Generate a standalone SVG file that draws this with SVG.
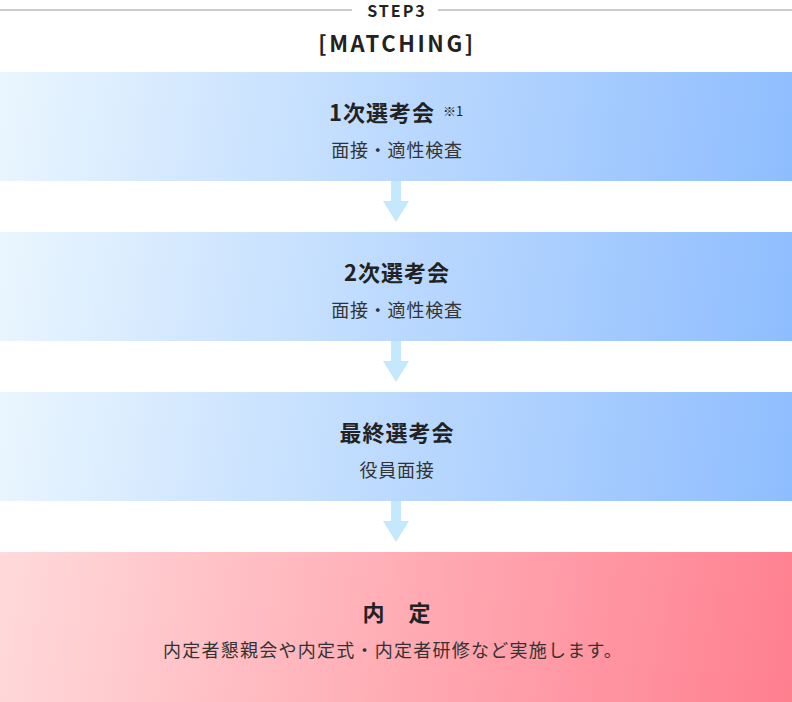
<svg xmlns="http://www.w3.org/2000/svg" width="792" height="702" viewBox="0 0 792 702">
<style>
text{font-family:"Noto Sans CJK JP","Noto Sans",sans-serif;fill:#222;text-anchor:middle}
.t{font-size:22px;font-weight:700;letter-spacing:1px}
.s{font-size:18px;fill:#333;letter-spacing:0.8px}
.n{font-size:13px;text-anchor:start}
</style>
<defs>
<linearGradient id="gb" x1="0" y1="0" x2="792" y2="110" gradientUnits="userSpaceOnUse">
<stop offset="0" stop-color="#eaf6fe"/><stop offset="1" stop-color="#8ebdff"/>
</linearGradient>
<linearGradient id="gp" x1="0" y1="0" x2="792" y2="150" gradientUnits="userSpaceOnUse">
<stop offset="0" stop-color="#ffdadb"/><stop offset="1" stop-color="#ff7f8f"/>
</linearGradient>
</defs>
<g id="header">
<line x1="0" y1="10" x2="352" y2="10" stroke="#999" stroke-width="1"/>
<line x1="438" y1="10" x2="792" y2="10" stroke="#999" stroke-width="1"/>
<text x="397" y="16.5" style="font-size:16px;font-weight:700;letter-spacing:2px">STEP3</text>
<text x="397" y="52" style="font-size:22px;font-weight:700;letter-spacing:2.6px">[MATCHING]</text>
</g>
<g id="connectors" fill="#c4e8fc">
<path d="M391 181H401V201H409L396 222L383 201H391Z"/>
<path d="M391 341H401V361H409L396 382L383 361H391Z"/>
<path d="M391 501H401V521H409L396 542L383 521H391Z"/>
</g>
<g id="step1" transform="translate(0,72)">
<rect width="792" height="109" fill="url(#gb)"/>
<text class="t" x="382" y="49">1次選考会</text>
<text class="n" x="443" y="44">※1</text>
<text class="s" x="397" y="85">面接・適性検査</text>
</g>
<g id="step2" transform="translate(0,232)">
<rect width="792" height="109" fill="url(#gb)"/>
<text class="t" x="397" y="49">2次選考会</text>
<text class="s" x="397" y="85">面接・適性検査</text>
</g>
<g id="step3" transform="translate(0,392)">
<rect width="792" height="109" fill="url(#gb)"/>
<text class="t" x="397" y="49">最終選考会</text>
<text class="s" x="397" y="85">役員面接</text>
</g>
<g id="offer" transform="translate(0,552)">
<rect width="792" height="150" fill="url(#gp)"/>
<text class="t" x="397" y="69" xml:space="preserve">内　定</text>
<text class="s" x="393" y="105" style="letter-spacing:1.25px">内定者懇親会や内定式・内定者研修など実施します。</text>
</g>
</svg>
